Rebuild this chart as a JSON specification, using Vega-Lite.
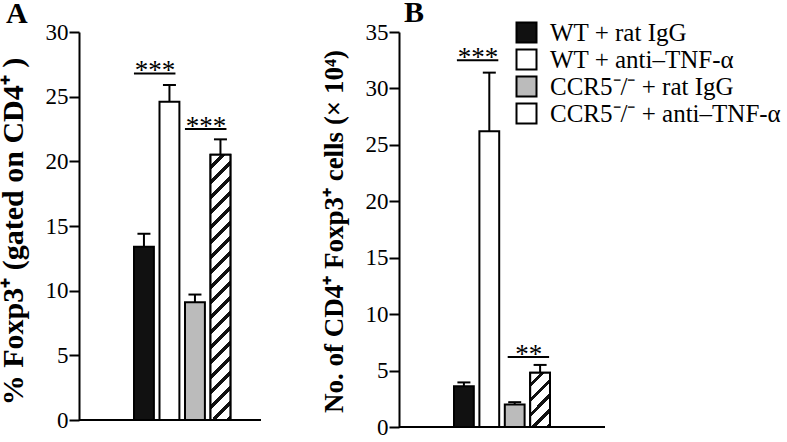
{
  "$schema": "https://vega.github.io/schema/vega-lite/v6.json",
  "background": "white",
  "padding": {"left": -3, "top": -2, "right": 0, "bottom": 0},
  "config": {
    "view": {"stroke": null},
    "axis": {"domainColor": "black", "domainWidth": 2, "tickColor": "black", "tickWidth": 2, "tickSize": 10, "labelFont": "Liberation Serif", "labelFontSize": 23, "labelColor": "black", "labelPadding": 1, "grid": false, "titleFont": "Liberation Serif", "titleFontWeight": "bold", "titleColor": "black", "titleBaseline": "middle"},
    "title": {"font": "Liberation Serif", "fontSize": 30, "fontWeight": "bold", "color": "black", "anchor": "start", "frame": "group"}
  },
  "datasets": {
    "bars": [
      {"panel": "A", "group": "WT + rat IgG", "value": 13.4, "err": 14.4},
      {"panel": "A", "group": "WT + anti–TNF-α", "value": 24.6, "err": 25.9},
      {"panel": "A", "group": "CCR5⁻/⁻ + rat IgG", "value": 9.1, "err": 9.7},
      {"panel": "A", "group": "CCR5⁻/⁻ + anti–TNF-α", "value": 20.5, "err": 21.7},
      {"panel": "B", "group": "WT + rat IgG", "value": 3.6, "err": 3.95},
      {"panel": "B", "group": "WT + anti–TNF-α", "value": 26.2, "err": 31.4},
      {"panel": "B", "group": "CCR5⁻/⁻ + rat IgG", "value": 2.0, "err": 2.2},
      {"panel": "B", "group": "CCR5⁻/⁻ + anti–TNF-α", "value": 4.8, "err": 5.5}
    ],
    "sig": [
      {"panel": "A", "g1": "WT + rat IgG", "g2": "WT + anti–TNF-α", "y": 26.8, "label": "***"},
      {"panel": "A", "g1": "CCR5⁻/⁻ + rat IgG", "g2": "CCR5⁻/⁻ + anti–TNF-α", "y": 22.5, "label": "***"},
      {"panel": "B", "g1": "WT + rat IgG", "g2": "WT + anti–TNF-α", "y": 32.5, "label": "***"},
      {"panel": "B", "g1": "CCR5⁻/⁻ + rat IgG", "g2": "CCR5⁻/⁻ + anti–TNF-α", "y": 6.2, "label": "**"}
    ]
  },
  "spacing": 57,
  "resolve": {"scale": {"x": "independent", "y": "independent", "fill": "independent"}, "legend": {"fill": "independent"}},
  "hconcat": [
    {
      "width": 182,
      "height": 388,
      "title": {"text": "A", "dx": -73, "offset": -8},
      "data": {"name": "bars"},
      "layer": [
        {
          "transform": [{"filter": "datum.panel === 'A'"}],
          "mark": {"type": "bar", "stroke": "black", "strokeWidth": 2},
          "encoding": {
            "x": {"field": "group", "type": "nominal", "sort": null, "scale": {"domain": ["WT + rat IgG", "WT + anti–TNF-α", "CCR5⁻/⁻ + rat IgG", "CCR5⁻/⁻ + anti–TNF-α"], "paddingInner": 0.22, "paddingOuter": 0, "range": [55, 151.4]}, "axis": null},
            "y": {"field": "value", "type": "quantitative", "scale": {"domain": [0, 30], "nice": false}, "axis": {"values": [0, 5, 10, 15, 20, 25, 30], "title": "% Foxp3⁺  (gated on CD4⁺ )", "titleFontSize": 30, "titleX": -66, "titleY": 199}},
            "fill": {"field": "group", "type": "nominal", "scale": {"domain": ["WT + rat IgG", "WT + anti–TNF-α", "CCR5⁻/⁻ + rat IgG", "CCR5⁻/⁻ + anti–TNF-α"], "range": ["#111111", "#ffffff", "#bbbbbb", "#ffffff"]}, "legend": null}
          }
        },
        {
          "transform": [{"filter": "datum.panel === 'A' && datum.group === 'CCR5⁻/⁻ + anti–TNF-α'"}],
          "mark": {"type": "bar", "stroke": "black", "strokeWidth": 2, "fill": {"gradient": "linear", "x1": 0, "y1": 0, "x2": 0.0807, "y2": 1.0694, "stops": [
            {"offset": 0, "color": "#fff"}, {"offset": 0.03684, "color": "#fff"}, {"offset": 0.03684, "color": "#111"}, {"offset": 0.05263, "color": "#111"},
            {"offset": 0.05263, "color": "#fff"}, {"offset": 0.08947, "color": "#fff"}, {"offset": 0.08947, "color": "#111"}, {"offset": 0.10526, "color": "#111"},
            {"offset": 0.10526, "color": "#fff"}, {"offset": 0.14211, "color": "#fff"}, {"offset": 0.14211, "color": "#111"}, {"offset": 0.15789, "color": "#111"},
            {"offset": 0.15789, "color": "#fff"}, {"offset": 0.19474, "color": "#fff"}, {"offset": 0.19474, "color": "#111"}, {"offset": 0.21053, "color": "#111"},
            {"offset": 0.21053, "color": "#fff"}, {"offset": 0.24737, "color": "#fff"}, {"offset": 0.24737, "color": "#111"}, {"offset": 0.26316, "color": "#111"},
            {"offset": 0.26316, "color": "#fff"}, {"offset": 0.30000, "color": "#fff"}, {"offset": 0.30000, "color": "#111"}, {"offset": 0.31579, "color": "#111"},
            {"offset": 0.31579, "color": "#fff"}, {"offset": 0.35263, "color": "#fff"}, {"offset": 0.35263, "color": "#111"}, {"offset": 0.36842, "color": "#111"},
            {"offset": 0.36842, "color": "#fff"}, {"offset": 0.40526, "color": "#fff"}, {"offset": 0.40526, "color": "#111"}, {"offset": 0.42105, "color": "#111"},
            {"offset": 0.42105, "color": "#fff"}, {"offset": 0.45789, "color": "#fff"}, {"offset": 0.45789, "color": "#111"}, {"offset": 0.47368, "color": "#111"},
            {"offset": 0.47368, "color": "#fff"}, {"offset": 0.51053, "color": "#fff"}, {"offset": 0.51053, "color": "#111"}, {"offset": 0.52632, "color": "#111"},
            {"offset": 0.52632, "color": "#fff"}, {"offset": 0.56316, "color": "#fff"}, {"offset": 0.56316, "color": "#111"}, {"offset": 0.57895, "color": "#111"},
            {"offset": 0.57895, "color": "#fff"}, {"offset": 0.61579, "color": "#fff"}, {"offset": 0.61579, "color": "#111"}, {"offset": 0.63158, "color": "#111"},
            {"offset": 0.63158, "color": "#fff"}, {"offset": 0.66842, "color": "#fff"}, {"offset": 0.66842, "color": "#111"}, {"offset": 0.68421, "color": "#111"},
            {"offset": 0.68421, "color": "#fff"}, {"offset": 0.72105, "color": "#fff"}, {"offset": 0.72105, "color": "#111"}, {"offset": 0.73684, "color": "#111"},
            {"offset": 0.73684, "color": "#fff"}, {"offset": 0.77368, "color": "#fff"}, {"offset": 0.77368, "color": "#111"}, {"offset": 0.78947, "color": "#111"},
            {"offset": 0.78947, "color": "#fff"}, {"offset": 0.82632, "color": "#fff"}, {"offset": 0.82632, "color": "#111"}, {"offset": 0.84211, "color": "#111"},
            {"offset": 0.84211, "color": "#fff"}, {"offset": 0.87895, "color": "#fff"}, {"offset": 0.87895, "color": "#111"}, {"offset": 0.89474, "color": "#111"},
            {"offset": 0.89474, "color": "#fff"}, {"offset": 0.93158, "color": "#fff"}, {"offset": 0.93158, "color": "#111"}, {"offset": 0.94737, "color": "#111"},
            {"offset": 0.94737, "color": "#fff"}, {"offset": 0.98421, "color": "#fff"}, {"offset": 0.98421, "color": "#111"}, {"offset": 1, "color": "#111"}
          ]}},
          "encoding": {
            "x": {"field": "group", "type": "nominal", "sort": null, "scale": {"domain": ["WT + rat IgG", "WT + anti–TNF-α", "CCR5⁻/⁻ + rat IgG", "CCR5⁻/⁻ + anti–TNF-α"], "paddingInner": 0.22, "paddingOuter": 0, "range": [55, 151.4]}, "axis": null},
            "y": {"field": "value", "type": "quantitative", "scale": {"domain": [0, 30], "nice": false}, "axis": {"values": [0, 5, 10, 15, 20, 25, 30], "title": "% Foxp3⁺  (gated on CD4⁺ )", "titleFontSize": 30, "titleX": -66, "titleY": 199}}
          }
        },
        {
          "transform": [{"filter": "datum.panel === 'A'"}],
          "mark": {"type": "rule", "strokeWidth": 2, "color": "black"},
          "encoding": {
            "x": {"field": "group", "type": "nominal", "sort": null, "scale": {"domain": ["WT + rat IgG", "WT + anti–TNF-α", "CCR5⁻/⁻ + rat IgG", "CCR5⁻/⁻ + anti–TNF-α"], "paddingInner": 0.22, "paddingOuter": 0, "range": [55, 151.4]}, "axis": null},
            "y": {"field": "value", "type": "quantitative", "scale": {"domain": [0, 30], "nice": false}, "axis": {"values": [0, 5, 10, 15, 20, 25, 30], "title": "% Foxp3⁺  (gated on CD4⁺ )", "titleFontSize": 30, "titleX": -66, "titleY": 199}},
            "y2": {"field": "err"}
          }
        },
        {
          "transform": [{"filter": "datum.panel === 'A'"}],
          "mark": {"type": "tick", "size": 13, "thickness": 2, "color": "black", "opacity": 1},
          "encoding": {
            "x": {"field": "group", "type": "nominal", "sort": null, "scale": {"domain": ["WT + rat IgG", "WT + anti–TNF-α", "CCR5⁻/⁻ + rat IgG", "CCR5⁻/⁻ + anti–TNF-α"], "paddingInner": 0.22, "paddingOuter": 0, "range": [55, 151.4]}, "axis": null},
            "y": {"field": "err", "type": "quantitative", "scale": {"domain": [0, 30], "nice": false}, "axis": {"values": [0, 5, 10, 15, 20, 25, 30], "title": "% Foxp3⁺  (gated on CD4⁺ )", "titleFontSize": 30, "titleX": -66, "titleY": 199}}
          }
        },
        {
          "transform": [{"filter": "datum.panel === 'A'"}],
          "mark": {"type": "rule", "strokeWidth": 2, "color": "black"},
          "encoding": {
            "y": {"datum": 0, "type": "quantitative", "scale": {"domain": [0, 30], "nice": false}, "axis": {"values": [0, 5, 10, 15, 20, 25, 30], "title": "% Foxp3⁺  (gated on CD4⁺ )", "titleFontSize": 30, "titleX": -66, "titleY": 199}}
          }
        },
        {
          "data": {"name": "sig"},
          "transform": [{"filter": "datum.panel === 'A'"}],
          "mark": {"type": "rule", "strokeWidth": 2, "color": "black", "xOffset": -10, "x2Offset": 6},
          "encoding": {
            "x": {"field": "g1", "type": "nominal", "sort": null, "scale": {"domain": ["WT + rat IgG", "WT + anti–TNF-α", "CCR5⁻/⁻ + rat IgG", "CCR5⁻/⁻ + anti–TNF-α"], "paddingInner": 0.22, "paddingOuter": 0, "range": [55, 151.4]}, "axis": null},
            "x2": {"field": "g2"},
            "y": {"field": "y", "type": "quantitative", "scale": {"domain": [0, 30], "nice": false}, "axis": {"values": [0, 5, 10, 15, 20, 25, 30], "title": "% Foxp3⁺  (gated on CD4⁺ )", "titleFontSize": 30, "titleX": -66, "titleY": 199}}
          }
        },
        {
          "data": {"name": "sig"},
          "transform": [{"filter": "datum.panel === 'A'"}],
          "mark": {"type": "text", "font": "Liberation Serif", "fontSize": 27, "color": "black", "dx": 11, "dy": 6, "baseline": "alphabetic"},
          "encoding": {
            "x": {"field": "g1", "type": "nominal", "sort": null, "scale": {"domain": ["WT + rat IgG", "WT + anti–TNF-α", "CCR5⁻/⁻ + rat IgG", "CCR5⁻/⁻ + anti–TNF-α"], "paddingInner": 0.22, "paddingOuter": 0, "range": [55, 151.4]}, "axis": null},
            "y": {"field": "y", "type": "quantitative", "scale": {"domain": [0, 30], "nice": false}, "axis": {"values": [0, 5, 10, 15, 20, 25, 30], "title": "% Foxp3⁺  (gated on CD4⁺ )", "titleFontSize": 30, "titleX": -66, "titleY": 199}},
            "text": {"field": "label"}
          }
        }
      ]
    },
    {
      "width": 206,
      "height": 395,
      "title": {"text": "B", "dx": 5, "offset": -8},
      "data": {"name": "bars"},
      "layer": [
        {
          "transform": [{"filter": "datum.panel === 'B'"}],
          "mark": {"type": "bar", "stroke": "black", "strokeWidth": 2},
          "encoding": {
            "x": {"field": "group", "type": "nominal", "sort": null, "scale": {"domain": ["WT + rat IgG", "WT + anti–TNF-α", "CCR5⁻/⁻ + rat IgG", "CCR5⁻/⁻ + anti–TNF-α"], "paddingInner": 0.22, "paddingOuter": 0, "range": [55, 151]}, "axis": null},
            "y": {"field": "value", "type": "quantitative", "scale": {"domain": [0, 35], "nice": false}, "axis": {"values": [0, 5, 10, 15, 20, 25, 30, 35], "title": "No. of CD4⁺ Foxp3⁺ cells (× 10⁴)", "titleFontSize": 27, "titleX": -65, "titleY": 199}},
            "fill": {"field": "group", "type": "nominal", "scale": {"domain": ["WT + rat IgG", "WT + anti–TNF-α", "CCR5⁻/⁻ + rat IgG", "CCR5⁻/⁻ + anti–TNF-α"], "range": ["#111111", "#ffffff", "#bbbbbb", "#ffffff"]},
              "legend": {"orient": "none", "legendX": 115, "legendY": -12, "title": null, "symbolType": "square", "symbolSize": 400, "labelFont": "Liberation Serif", "labelFontSize": 25, "labelColor": "black", "labelOffset": 11, "rowPadding": -4, "labelLimit": 400, "padding": 0, "symbolStrokeColor": "black", "symbolStrokeWidth": 2, "symbolOpacity": 1}}
          }
        },
        {
          "transform": [{"filter": "datum.panel === 'B' && datum.group === 'CCR5⁻/⁻ + anti–TNF-α'"}],
          "mark": {"type": "bar", "stroke": "black", "strokeWidth": 2, "fill": {"gradient": "linear", "x1": 0, "y1": 0, "x2": 0.4446, "y2": 1.2048, "stops": [
            {"offset": 0, "color": "#fff"}, {"offset": 0.14, "color": "#fff"}, {"offset": 0.14, "color": "#111"}, {"offset": 0.2, "color": "#111"},
            {"offset": 0.2, "color": "#fff"}, {"offset": 0.34, "color": "#fff"}, {"offset": 0.34, "color": "#111"}, {"offset": 0.4, "color": "#111"},
            {"offset": 0.4, "color": "#fff"}, {"offset": 0.54, "color": "#fff"}, {"offset": 0.54, "color": "#111"}, {"offset": 0.6, "color": "#111"},
            {"offset": 0.6, "color": "#fff"}, {"offset": 0.74, "color": "#fff"}, {"offset": 0.74, "color": "#111"}, {"offset": 0.8, "color": "#111"},
            {"offset": 0.8, "color": "#fff"}, {"offset": 0.94, "color": "#fff"}, {"offset": 0.94, "color": "#111"}, {"offset": 1, "color": "#111"}
          ]}},
          "encoding": {
            "x": {"field": "group", "type": "nominal", "sort": null, "scale": {"domain": ["WT + rat IgG", "WT + anti–TNF-α", "CCR5⁻/⁻ + rat IgG", "CCR5⁻/⁻ + anti–TNF-α"], "paddingInner": 0.22, "paddingOuter": 0, "range": [55, 151]}, "axis": null},
            "y": {"field": "value", "type": "quantitative", "scale": {"domain": [0, 35], "nice": false}, "axis": {"values": [0, 5, 10, 15, 20, 25, 30, 35], "title": "No. of CD4⁺ Foxp3⁺ cells (× 10⁴)", "titleFontSize": 27, "titleX": -65, "titleY": 199}}
          }
        },
        {
          "transform": [{"filter": "datum.panel === 'B'"}],
          "mark": {"type": "rule", "strokeWidth": 2, "color": "black"},
          "encoding": {
            "x": {"field": "group", "type": "nominal", "sort": null, "scale": {"domain": ["WT + rat IgG", "WT + anti–TNF-α", "CCR5⁻/⁻ + rat IgG", "CCR5⁻/⁻ + anti–TNF-α"], "paddingInner": 0.22, "paddingOuter": 0, "range": [55, 151]}, "axis": null},
            "y": {"field": "value", "type": "quantitative", "scale": {"domain": [0, 35], "nice": false}, "axis": {"values": [0, 5, 10, 15, 20, 25, 30, 35], "title": "No. of CD4⁺ Foxp3⁺ cells (× 10⁴)", "titleFontSize": 27, "titleX": -65, "titleY": 199}},
            "y2": {"field": "err"}
          }
        },
        {
          "transform": [{"filter": "datum.panel === 'B'"}],
          "mark": {"type": "tick", "size": 13, "thickness": 2, "color": "black", "opacity": 1},
          "encoding": {
            "x": {"field": "group", "type": "nominal", "sort": null, "scale": {"domain": ["WT + rat IgG", "WT + anti–TNF-α", "CCR5⁻/⁻ + rat IgG", "CCR5⁻/⁻ + anti–TNF-α"], "paddingInner": 0.22, "paddingOuter": 0, "range": [55, 151]}, "axis": null},
            "y": {"field": "err", "type": "quantitative", "scale": {"domain": [0, 35], "nice": false}, "axis": {"values": [0, 5, 10, 15, 20, 25, 30, 35], "title": "No. of CD4⁺ Foxp3⁺ cells (× 10⁴)", "titleFontSize": 27, "titleX": -65, "titleY": 199}}
          }
        },
        {
          "transform": [{"filter": "datum.panel === 'B'"}],
          "mark": {"type": "rule", "strokeWidth": 2, "color": "black"},
          "encoding": {
            "y": {"datum": 0, "type": "quantitative", "scale": {"domain": [0, 35], "nice": false}, "axis": {"values": [0, 5, 10, 15, 20, 25, 30, 35], "title": "No. of CD4⁺ Foxp3⁺ cells (× 10⁴)", "titleFontSize": 27, "titleX": -65, "titleY": 199}}
          }
        },
        {
          "data": {"name": "sig"},
          "transform": [{"filter": "datum.panel === 'B'"}],
          "mark": {"type": "rule", "strokeWidth": 2, "color": "black", "xOffset": -7, "x2Offset": 9},
          "encoding": {
            "x": {"field": "g1", "type": "nominal", "sort": null, "scale": {"domain": ["WT + rat IgG", "WT + anti–TNF-α", "CCR5⁻/⁻ + rat IgG", "CCR5⁻/⁻ + anti–TNF-α"], "paddingInner": 0.22, "paddingOuter": 0, "range": [55, 151]}, "axis": null},
            "x2": {"field": "g2"},
            "y": {"field": "y", "type": "quantitative", "scale": {"domain": [0, 35], "nice": false}, "axis": {"values": [0, 5, 10, 15, 20, 25, 30, 35], "title": "No. of CD4⁺ Foxp3⁺ cells (× 10⁴)", "titleFontSize": 27, "titleX": -65, "titleY": 199}}
          }
        },
        {
          "data": {"name": "sig"},
          "transform": [{"filter": "datum.panel === 'B'"}],
          "mark": {"type": "text", "font": "Liberation Serif", "fontSize": 27, "color": "black", "dx": 14, "dy": 6, "baseline": "alphabetic"},
          "encoding": {
            "x": {"field": "g1", "type": "nominal", "sort": null, "scale": {"domain": ["WT + rat IgG", "WT + anti–TNF-α", "CCR5⁻/⁻ + rat IgG", "CCR5⁻/⁻ + anti–TNF-α"], "paddingInner": 0.22, "paddingOuter": 0, "range": [55, 151]}, "axis": null},
            "y": {"field": "y", "type": "quantitative", "scale": {"domain": [0, 35], "nice": false}, "axis": {"values": [0, 5, 10, 15, 20, 25, 30, 35], "title": "No. of CD4⁺ Foxp3⁺ cells (× 10⁴)", "titleFontSize": 27, "titleX": -65, "titleY": 199}},
            "text": {"field": "label"}
          }
        }
      ]
    }
  ]
}
